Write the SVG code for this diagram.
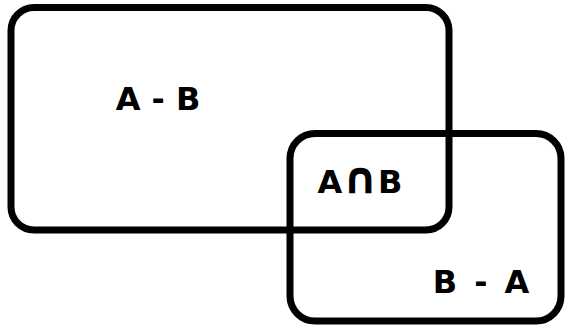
<svg xmlns="http://www.w3.org/2000/svg" width="565" height="330" viewBox="0 0 565 330">
<style>
.set{fill:none;stroke:#000;stroke-width:7}
.lbl{font-family:"DejaVu Sans",sans-serif;font-weight:bold;font-size:32px;fill:#000;text-anchor:middle}
.cap{font-size:44px}
</style>
<rect width="565" height="330" fill="#fff"/>
<g id="setA"><rect class="set" x="11" y="7.5" width="438" height="222.5" rx="23"/></g>
<g id="setB"><rect class="set" x="290" y="133.5" width="271" height="187.5" rx="25"/></g>
<g id="labels">
<text class="lbl" x="158" y="110">A - B</text>
<text class="lbl" x="360" y="193">A<tspan class="cap">∩</tspan>B</text>
<text class="lbl" x="481" y="293" word-spacing="6">B - A</text>
</g>
<g id="connectors"/>
</svg>
